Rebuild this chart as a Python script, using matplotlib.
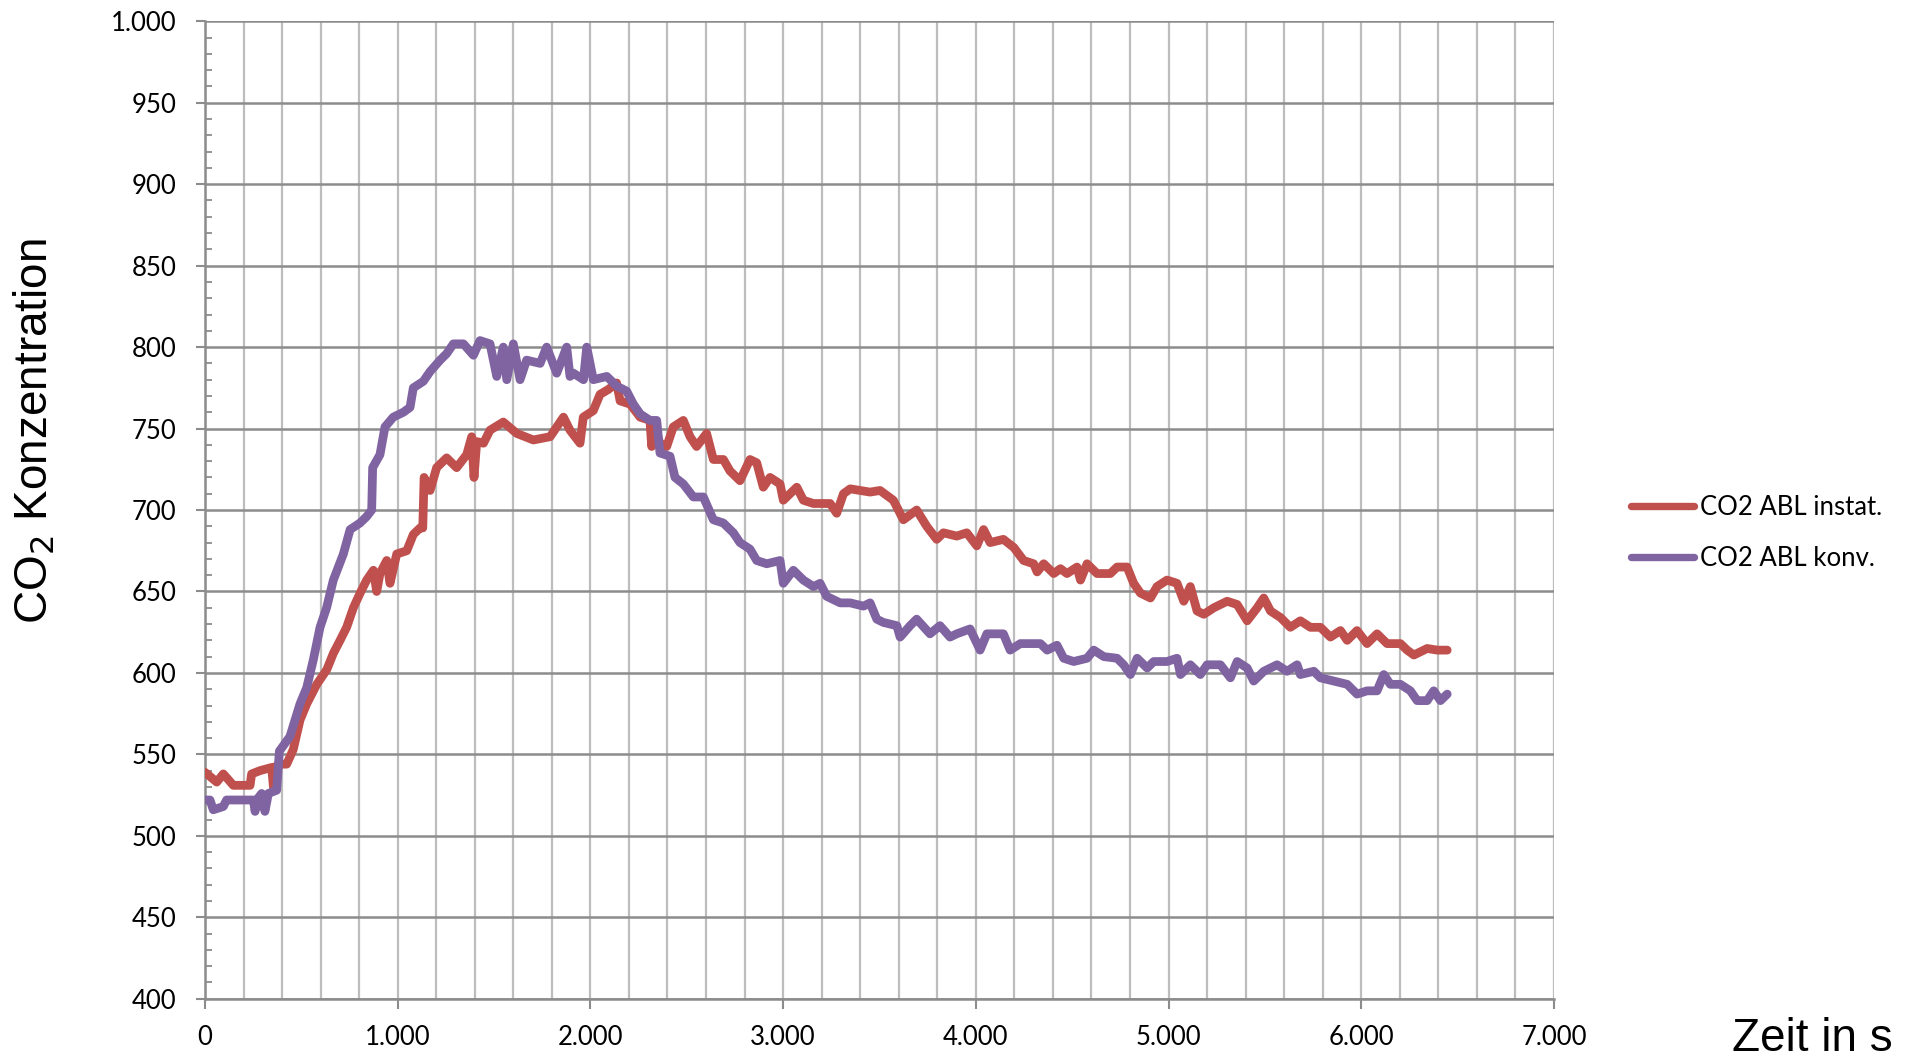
import matplotlib
matplotlib.use("Agg")
import matplotlib.pyplot as plt
from matplotlib.ticker import MultipleLocator, FuncFormatter

# Messreihe: CO2 ABL instationär
t_instat = [0, 61, 95, 147, 234, 242, 285, 346, 355, 363, 381, 424, 458, 493, 528, 580,
            632, 666, 701, 735, 770, 805, 839, 874, 891, 908, 943, 960, 995, 1047, 1081,
            1116, 1130, 1137, 1168, 1202, 1254, 1306, 1358, 1384, 1396, 1410, 1445, 1479,
            1548, 1618, 1704, 1791, 1860, 1894, 1946, 1963, 2015, 2050, 2093, 2136, 2154,
            2206, 2258, 2309, 2318, 2327, 2361, 2396, 2430, 2482, 2517, 2551, 2603, 2638,
            2690, 2724, 2776, 2828, 2863, 2897, 2932, 2984, 3001, 3071, 3105, 3157, 3244,
            3278, 3313, 3348, 3451, 3503, 3572, 3624, 3693, 3745, 3797, 3832, 3901, 3953,
            4005, 4040, 4074, 4143, 4197, 4248, 4300, 4318, 4352, 4404, 4439, 4473, 4525,
            4543, 4577, 4629, 4698, 4733, 4785, 4819, 4854, 4906, 4940, 4992, 5044, 5079,
            5113, 5148, 5183, 5235, 5304, 5356, 5408, 5460, 5494, 5529, 5581, 5632, 5684,
            5736, 5788, 5840, 5892, 5927, 5978, 6030, 6082, 6134, 6203, 6238, 6273, 6342,
            6394, 6446]
co2_instat = [539, 533, 538, 531, 531, 538, 540, 542, 530, 542, 544, 544, 553, 571, 581, 593,
              602, 612, 620, 628, 640, 649, 657, 663, 650, 661, 669, 655, 673, 675, 685,
              689, 689, 720, 712, 726, 732, 726, 734, 745, 720, 742, 741, 749,
              754, 747, 743, 745, 757, 749, 741, 757, 761, 771, 774, 778, 767,
              765, 757, 755, 739, 752, 741, 739, 751, 755, 745, 739, 747, 731,
              731, 724, 718, 731, 729, 714, 720, 716, 706, 714, 706, 704, 704,
              698, 710, 713, 711, 712, 706, 694, 700, 690, 682, 686, 684, 686,
              678, 688, 680, 682, 677, 669, 667, 662, 667, 661, 664, 661, 665,
              657, 667, 661, 661, 665, 665, 655, 649, 646, 653, 657, 655, 644,
              653, 638, 636, 640, 644, 642, 632, 640, 646, 638, 634, 628, 632,
              628, 628, 622, 626, 620, 626, 618, 624, 618, 618, 614, 611, 615,
              614, 614]

# Messreihe: CO2 ABL konventionell
t_konv = [0, 26, 43, 95, 112, 182, 251, 260, 268, 294, 311, 329, 372, 386, 441, 493, 528,
          562, 597, 631, 666, 718, 753, 804, 839, 865, 870, 908, 934, 977, 1029, 1064,
          1081, 1133, 1168, 1220, 1254, 1289, 1341, 1393, 1427, 1479, 1514, 1548, 1566,
          1600, 1635, 1669, 1739, 1773, 1825, 1877, 1894, 1912, 1964, 1981, 2015, 2085,
          2137, 2188, 2223, 2258, 2309, 2344, 2361, 2413, 2439, 2482, 2534, 2586, 2638,
          2690, 2742, 2776, 2828, 2863, 2915, 2984, 3001, 3053, 3105, 3157, 3192, 3226,
          3296, 3348, 3417, 3451, 3486, 3520, 3590, 3607, 3659, 3693, 3762, 3814, 3866,
          3901, 3970, 4022, 4057, 4143, 4178, 4231, 4335, 4370, 4421, 4456, 4508, 4577,
          4612, 4664, 4733, 4767, 4802, 4837, 4889, 4923, 4992, 5044, 5062, 5113, 5165,
          5200, 5269, 5321, 5356, 5408, 5442, 5494, 5563, 5615, 5667, 5684, 5754, 5788,
          5857, 5927, 5978, 6030, 6082, 6117, 6151, 6203, 6255, 6290, 6342, 6376, 6411,
          6446]
co2_konv = [522, 522, 516, 518, 522, 522, 522, 515, 522, 526, 515, 526, 528, 552, 561, 581, 591,
            608, 628, 640, 657, 673, 688, 692, 696, 700, 726, 734, 751, 757, 760, 763,
            775, 779, 785, 792, 796, 802, 802, 795, 804, 802, 782, 800, 780,
            802, 780, 792, 790, 800, 784, 800, 782, 784, 780, 800, 780, 782,
            776, 773, 765, 759, 755, 755, 735, 733, 720, 716, 708, 708, 694,
            692, 686, 680, 676, 669, 667, 669, 655, 663, 657, 653, 655, 647,
            643, 643, 641, 643, 633, 631, 629, 622, 629, 633, 624, 629, 622,
            624, 627, 614, 624, 624, 614, 618, 618, 614, 617, 609, 607, 609,
            614, 610, 609, 605, 599, 609, 603, 607, 607, 609, 599, 605, 599,
            605, 605, 597, 607, 603, 595, 601, 605, 601, 605, 599, 601, 597,
            595, 593, 587, 589, 589, 599, 593, 593, 589, 583, 583, 589, 583,
            587]

labels = ["CO2 ABL instat.", "CO2 ABL konv."]
colors = ["#C0504D", "#8064A2"]

TICK_FONT = ["Lato", "DejaVu Sans"]
TITLE_FONT = ["Liberation Sans", "DejaVu Sans"]
LINE_W = 6.3

fig = plt.figure(figsize=(19.14, 10.59), dpi=100)
ax = fig.add_axes([0.1071, 0.0569, 0.8119 - 0.1071, 0.9799 - 0.0569])

ax.plot(t_instat, co2_instat, color=colors[0], lw=LINE_W, solid_joinstyle="round",
        solid_capstyle="round", label=labels[0], zorder=3)
ax.plot(t_konv, co2_konv, color=colors[1], lw=LINE_W, solid_joinstyle="round",
        solid_capstyle="round", label=labels[1], zorder=3)

ax.set_xlim(0, 7000)
ax.set_ylim(400, 1000)

ax.xaxis.set_major_locator(MultipleLocator(1000))
ax.xaxis.set_minor_locator(MultipleLocator(200))
ax.yaxis.set_major_locator(MultipleLocator(50))
ax.yaxis.set_minor_locator(MultipleLocator(10))

fmt = FuncFormatter(lambda v, _: f"{v:,.0f}".replace(",", "."))
ax.xaxis.set_major_formatter(fmt)
ax.yaxis.set_major_formatter(fmt)

# grid: vertical lines every 200 s (light), horizontal every 50 (darker)
ax.grid(which="both", axis="x", color="#BDBDBD", lw=1.6, zorder=1)
ax.grid(which="major", axis="y", color="#8C8C8C", lw=1.8, zorder=1)
ax.set_axisbelow(True)

for s in ["top", "right"]:
    ax.spines[s].set_visible(False)
for s in ["left", "bottom"]:
    ax.spines[s].set_color("#8C8C8C")
    ax.spines[s].set_linewidth(1.8)

ax.tick_params(axis="y", which="major", direction="out", length=6.5, width=1.5,
               color="#8C8C8C", pad=14, labelsize=18.5, labelcolor="black")
ax.tick_params(axis="y", which="minor", direction="in", length=5, width=1.3,
               color="#8C8C8C")
ax.tick_params(axis="x", which="major", direction="out", length=7, width=1.5,
               color="#8C8C8C", pad=12, labelsize=18.5, labelcolor="black")
ax.tick_params(axis="x", which="minor", length=0)
for lab in ax.get_xticklabels() + ax.get_yticklabels():
    lab.set_family(TICK_FONT)

fig.text(35 / 1914, 1 - 431 / 1059, "CO$_2$ Konzentration", rotation=90,
         ha="center", va="center", fontsize=33, family=TITLE_FONT)
fig.text(1812 / 1914, 1 - 1039 / 1059, "Zeit in s", ha="center", va="center",
         fontsize=33, family=TITLE_FONT)

leg = ax.legend(loc="upper left", bbox_to_anchor=(1618 / 1914, 1 - 482 / 1059),
                bbox_transform=fig.transFigure, frameon=False, handlelength=2.45,
                handletextpad=0.25, labelspacing=1.0, borderpad=0,
                prop={"family": TICK_FONT, "size": 18.5})
for h in leg.get_lines():
    h.set_linewidth(5.3)

fig.savefig("out.png", dpi=100, facecolor="white")
